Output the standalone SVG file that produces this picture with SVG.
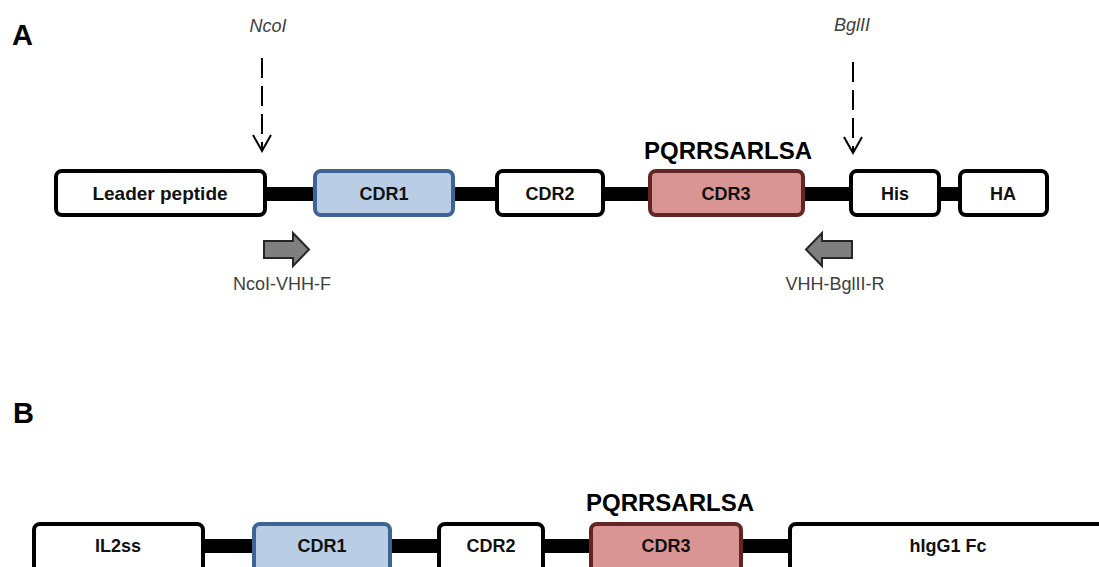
<svg xmlns="http://www.w3.org/2000/svg" width="1099" height="567" viewBox="0 0 1099 567">
<style>
.box{fill:#fff;stroke:#000;stroke-width:4}
.cdr1{fill:#b9cde5;stroke:#3d6494;stroke-width:4}
.cdr3{fill:#d99594;stroke:#632523;stroke-width:4}
.lbl{font-family:"Liberation Sans",Arial,sans-serif;font-weight:bold;font-size:18px;fill:#111;text-anchor:middle}
.seq{font-family:"Liberation Sans",Arial,sans-serif;font-weight:bold;font-size:24px;fill:#000;text-anchor:middle}
.panel{font-family:"Liberation Sans",Arial,sans-serif;font-weight:bold;font-size:29px;fill:#000}
.enz{font-family:"Liberation Sans",Arial,sans-serif;font-style:italic;font-size:18px;fill:#404040;text-anchor:middle}
.primer{font-family:"Liberation Sans",Arial,sans-serif;font-size:18px;fill:#404040;text-anchor:middle}
.bar{fill:#000}
.dash{fill:none;stroke:#000;stroke-width:2;stroke-dasharray:20 8}
.head{fill:none;stroke:#000;stroke-width:2}
.blk{fill:#7f7f7f;stroke:#262626;stroke-width:2;stroke-linejoin:miter}
</style>

<text class="panel" x="12" y="45">A</text>
<text class="panel" x="13" y="423">B</text>

<g id="connectors">
  <rect class="bar" x="265" y="187" width="50" height="14"/>
  <rect class="bar" x="453" y="187" width="44" height="14"/>
  <rect class="bar" x="603" y="187" width="47" height="14"/>
  <rect class="bar" x="803" y="187" width="48" height="14"/>
  <rect class="bar" x="939" y="187" width="21" height="14"/>
  <rect class="bar" x="203" y="539" width="51" height="14"/>
  <rect class="bar" x="390" y="539" width="49" height="14"/>
  <rect class="bar" x="543" y="539" width="48" height="14"/>
  <rect class="bar" x="741" y="539" width="49" height="14"/>
  <line class="dash" x1="262" y1="58" x2="262" y2="150"/>
  <polyline class="head" points="253,135 262,151 271,135"/>
  <line class="dash" x1="853" y1="62" x2="853" y2="152"/>
  <polyline class="head" points="844,137 853,153 862,137"/>
  <polygon class="blk" points="264,241 293,241 293,233 309,249.5 293,266 293,258 264,258"/>
  <polygon class="blk" points="852,241 822,241 822,233 806,249.5 822,266 822,258 852,258"/>
</g>

<g id="NcoI"><text class="enz" x="268" y="32">NcoI</text></g>
<g id="BglII"><text class="enz" x="852" y="31">BglII</text></g>

<g id="leader"><rect class="box" x="56" y="171" width="209" height="44" rx="6"/><text class="lbl" x="160" y="200" style="font-size:19px">Leader peptide</text></g>
<g id="cdr1A"><rect class="cdr1" x="315" y="171" width="138" height="44" rx="6"/><text class="lbl" x="384" y="200">CDR1</text></g>
<g id="cdr2A"><rect class="box" x="497" y="171" width="106" height="44" rx="6"/><text class="lbl" x="550" y="200">CDR2</text></g>
<g id="cdr3A"><rect class="cdr3" x="650" y="171" width="153" height="44" rx="6"/><text class="lbl" x="726" y="200">CDR3</text></g>
<g id="seqA"><text class="seq" x="728" y="159">PQRRSARLSA</text></g>
<g id="his"><rect class="box" x="851" y="171" width="88" height="44" rx="6"/><text class="lbl" x="895" y="200">His</text></g>
<g id="ha"><rect class="box" x="960" y="171" width="87" height="44" rx="6"/><text class="lbl" x="1003" y="200">HA</text></g>

<g id="primerF"><text class="primer" x="282" y="290">NcoI-VHH-F</text></g>
<g id="primerR"><text class="primer" x="835" y="290">VHH-BglII-R</text></g>

<g id="il2ss"><rect class="box" x="34" y="524" width="169" height="60" rx="6"/><text class="lbl" x="118" y="552">IL2ss</text></g>
<g id="cdr1B"><rect class="cdr1" x="254" y="524" width="136" height="60" rx="6"/><text class="lbl" x="322" y="552">CDR1</text></g>
<g id="cdr2B"><rect class="box" x="439" y="524" width="104" height="60" rx="6"/><text class="lbl" x="491" y="552">CDR2</text></g>
<g id="cdr3B"><rect class="cdr3" x="591" y="524" width="150" height="60" rx="6"/><text class="lbl" x="666" y="552">CDR3</text></g>
<g id="seqB"><text class="seq" x="670" y="511">PQRRSARLSA</text></g>
<g id="fc"><rect class="box" x="790" y="524" width="400" height="60" rx="6"/><text class="lbl" x="948" y="552">hIgG1 Fc</text></g>
</svg>
